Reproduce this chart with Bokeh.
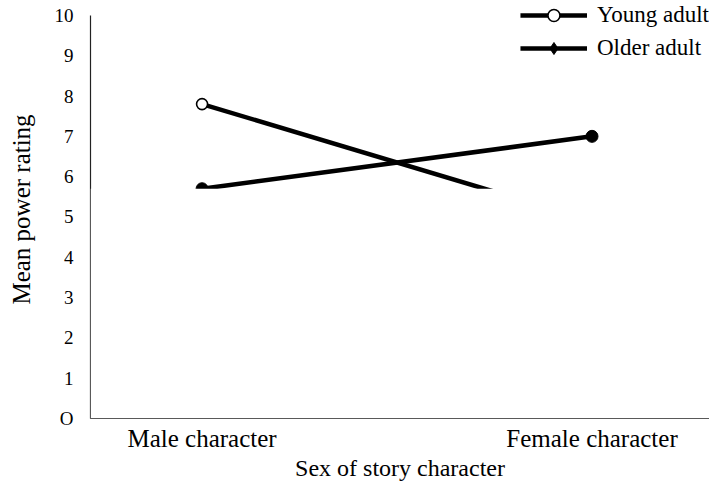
from bokeh.plotting import figure
from bokeh.models import (Range1d, FixedTicker, Legend, LegendItem, BoxAnnotation,
                          ColumnDataSource)
from bokeh.embed import file_html
from bokeh.resources import INLINE

# ---- data ----
categories = ["Male character", "Female character"]
young_adult = [7.8, 4.9]
older_adult = [5.7, 7.0]
y_ticks = [0, 1, 2, 3, 4, 5, 6, 7, 8, 9, 10]
y_tick_labels = ["O", "1", "2", "3", "4", "5", "6", "7", "8", "9", "10"]
x_title = "Sex of story character"
y_title = "Mean power rating"

FONT = "Liberation Serif, serif"
xs = list(range(len(categories)))
nan = float("nan")

p = figure(width=709, height=483, output_backend="svg", toolbar_location=None,
           x_range=Range1d(-0.2861, 1.3013), y_range=Range1d(0, 10.37),
           min_border_left=90, min_border_right=0, min_border_top=0,
           min_border_bottom=65)
p.outline_line_color = None
p.xgrid.visible = False
p.ygrid.visible = False
p.background_fill_color = "white"
p.border_fill_color = "white"

src_y = ColumnDataSource(dict(x=xs, y=young_adult))
src_o = ColumnDataSource(dict(x=xs, y=older_adult))

l_y = p.line("x", "y", source=src_y, line_color="black", line_width=4.5)
m_y = p.scatter("x", "y", source=src_y, marker="circle", size=11,
                fill_color="white", line_color="black", line_width=1.6)
l_o = p.line("x", "y", source=src_o, line_color="black", line_width=4.5)
m_o = p.scatter("x", "y", source=src_o, marker="circle", size=12,
                fill_color="black", line_color="black")
# legend-only diamond marker for older adults (no visible points)
d_o = p.scatter(x=[nan], y=[nan], marker="diamond", size=14, fill_color="black",
                line_color="black")

# region of the source picture that is blanked out below the older-adult male value
p.add_layout(BoxAnnotation(top=older_adult[0], fill_color="white", fill_alpha=1.0,
                           line_alpha=0))

# axes
p.xaxis.ticker = FixedTicker(ticks=xs)
p.xaxis.major_label_overrides = {i: c for i, c in zip(xs, categories)}
p.yaxis.ticker = FixedTicker(ticks=y_ticks)
p.yaxis.major_label_overrides = {t: l for t, l in zip(y_ticks, y_tick_labels)}
p.yaxis.bounds = (0, 10)
for ax in (p.xaxis, p.yaxis):
    ax.major_tick_out = 0
    ax.major_tick_in = 0
    ax.minor_tick_out = 0
    ax.minor_tick_in = 0
    ax.axis_line_color = "#222222"
    ax.axis_line_width = 1.2
    ax.major_label_text_font = FONT
    ax.major_label_text_color = "black"
    ax.axis_label_text_font = FONT
    ax.axis_label_text_font_style = "normal"
    ax.axis_label_text_color = "black"

p.yaxis.major_label_text_font_size = "19px"
p.yaxis.major_label_standoff = 17
p.yaxis.axis_label = y_title
p.yaxis.axis_label_text_font_size = "25px"
p.yaxis.axis_label_standoff = 17

p.xaxis.major_label_text_font_size = "25px"
p.xaxis.major_label_standoff = 6
p.xaxis.axis_label = x_title
p.xaxis.axis_label_text_font_size = "24px"
p.xaxis.axis_label_standoff = 0

legend = Legend(items=[LegendItem(label="Young adult", renderers=[l_y, m_y]),
                       LegendItem(label="Older adult", renderers=[l_o, d_o])],
                location="top_right")
legend.label_text_font = FONT
legend.label_text_font_size = "23px"
legend.label_text_color = "black"
legend.glyph_width = 67
legend.glyph_height = 30
legend.label_height = 30
legend.label_standoff = 10
legend.spacing = 3
legend.padding = 0
legend.margin = 0
legend.border_line_color = None
legend.background_fill_alpha = 0
p.add_layout(legend)

open("out.html", "w").write(file_html(p, INLINE))
